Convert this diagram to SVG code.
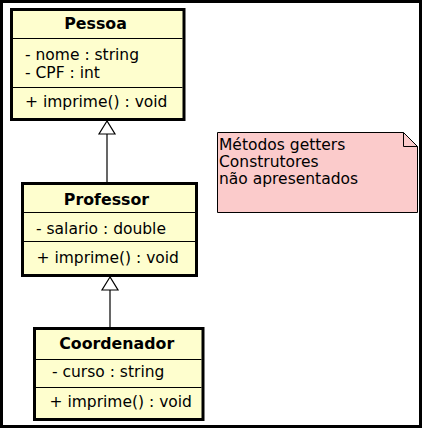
<svg xmlns="http://www.w3.org/2000/svg" width="422" height="429" viewBox="0 0 422 429">
<style>
.cls{fill:#FEFECE;stroke:#000;stroke-width:3}
.sep{stroke:#000;stroke-width:1}
.t{font-family:"DejaVu Sans",sans-serif;font-size:15.5px;fill:#000}
.b{font-family:"DejaVu Sans",sans-serif;font-size:15.8px;font-weight:bold;fill:#000;text-anchor:middle}
.edge{stroke:#000;stroke-width:1.2;fill:none}
.head{fill:#fff;stroke:#000;stroke-width:1.2}
</style>
<rect x="0" y="0" width="422" height="429" fill="#fff"/>
<rect x="1.5" y="1.5" width="419" height="425" fill="none" stroke="#000" stroke-width="3"/>
<g id="Pessoa">
<rect class="cls" x="11.5" y="9.5" width="172.5" height="110"/>
<line class="sep" x1="13" y1="38.5" x2="182.5" y2="38.5"/>
<line class="sep" x1="13" y1="87.5" x2="182.5" y2="87.5"/>
<text class="b" x="95.5" y="29">Pessoa</text>
<text class="t" x="25" y="60">- nome : string</text>
<text class="t" x="25" y="77.5">- CPF : int</text>
<text class="t" x="25" y="107">+ imprime() : void</text>
</g>
<g id="Professor">
<rect class="cls" x="22.5" y="183.5" width="174" height="92"/>
<line class="sep" x1="24" y1="212.5" x2="195" y2="212.5"/>
<line class="sep" x1="24" y1="241.5" x2="195" y2="241.5"/>
<text class="b" x="106.5" y="205">Professor</text>
<text class="t" x="36" y="234">- salario : double</text>
<text class="t" x="36.5" y="263">+ imprime() : void</text>
</g>
<g id="Coordenador">
<rect class="cls" x="34.5" y="328.5" width="168.5" height="91"/>
<line class="sep" x1="36" y1="359.5" x2="201.5" y2="359.5"/>
<line class="sep" x1="36" y1="387.5" x2="201.5" y2="387.5"/>
<text class="b" x="116.7" y="349">Coordenador</text>
<text class="t" x="52" y="377">- curso : string</text>
<text class="t" x="49.5" y="406.5">+ imprime() : void</text>
</g>
<g id="note">
<path d="M217.5,132.5 H403.5 L417.5,146.5 V212.5 H217.5 Z" fill="#FBCBCB" stroke="#000" stroke-width="1"/>
<path d="M403.5,132.5 V146.5 H417.5" fill="none" stroke="#000" stroke-width="1"/>
<text class="t" x="219" y="149.5">Métodos getters</text>
<text class="t" x="219" y="167">Construtores</text>
<text class="t" x="219" y="184">não apresentados</text>
</g>
<g id="connectors">
<line class="edge" x1="107" y1="134" x2="107" y2="182"/>
<polygon class="head" points="107,121 99,134 115,134"/>
<line class="edge" x1="110" y1="290" x2="110" y2="327"/>
<polygon class="head" points="110,277 102,290 118,290"/>
</g>
</svg>
